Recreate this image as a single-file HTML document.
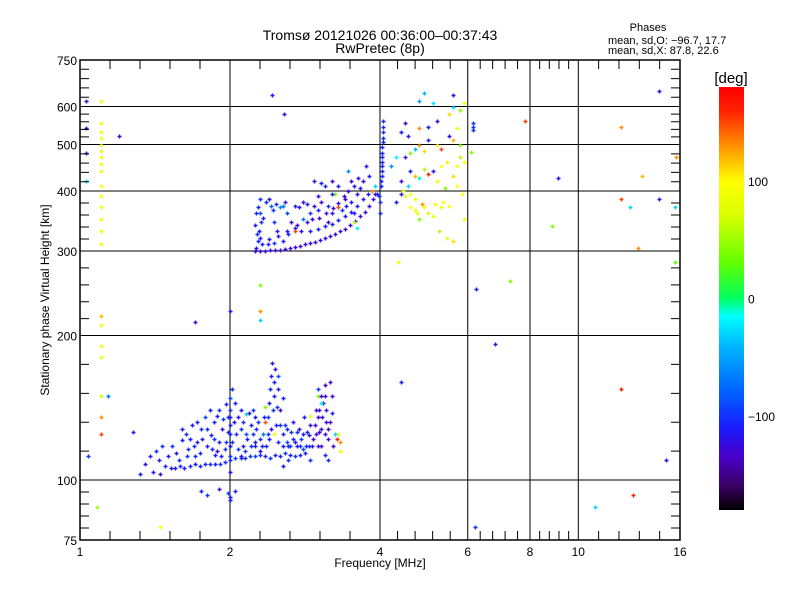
<!DOCTYPE html>
<html><head><meta charset="utf-8">
<style>
body{margin:0;background:#fff;}
svg{display:block;font-family:"Liberation Sans",sans-serif;}
</style></head>
<body>
<svg id="chart" width="800" height="600" viewBox="0 0 800 600" xmlns="http://www.w3.org/2000/svg">
<rect x="0" y="0" width="800" height="600" fill="#fff"/>
<text x="380" y="40" font-size="14" text-anchor="middle">Tromsø 20121026 00:36:00–00:37:43</text>
<text x="380" y="53" font-size="14" text-anchor="middle">RwPretec (8p)</text>
<text x="648" y="31" font-size="11" text-anchor="middle">Phases</text>
<text x="608" y="44" font-size="11">mean, sd,O: −96.7, 17.7</text>
<text x="608" y="54" font-size="11">mean, sd,X:  87.8, 22.6</text>
<text transform="translate(49,300) rotate(-90)" font-size="12" text-anchor="middle">Stationary phase Virtual Height [km]</text>
<text x="380" y="567" font-size="12" text-anchor="middle">Frequency [MHz]</text>
<text x="731" y="83" font-size="15" text-anchor="middle">[deg]</text>
<g id="grid"></g>
<g id="marks"></g>
<g id="axes"></g>
<g id="cbar"></g>
</svg>
<script>
const xLabelValues=[1,2,4,6,8,10,16];
const yLabelValues=[75,100,200,300,400,500,600,750];
const cbarTicks=[100,0,-100];
const leftColumn=[[1.1,615,95],[1.1,555,90],[1.1,530,90],[1.1,515,92],[1.1,500,90],[1.1,485,88],[1.1,470,90],[1.1,455,90],[1.1,440,88],[1.1,410,90],[1.1,390,95],[1.1,370,90],[1.1,350,90],[1.1,330,92],[1.1,310,90],[1.1,220,120],[1.1,210,95],[1.1,190,90],[1.1,180,85],[1.1,150,70],[1.1,135,130],[1.1,125,150],[1.03,615,-130],[1.03,540,-130],[1.03,480,-130],[1.03,420,-30],[1.2,520,-130]];
const upperTrace=[[2.25,300,-125],[2.3,300,-125],[2.35,300,-125],[2.41,301,-125],[2.46,301,-125],[2.52,302,-125],[2.58,303,-125],[2.64,305,-125],[2.7,306,-125],[2.76,308,-125],[2.83,310,-125],[2.89,312,-125],[2.96,314,-125],[3.03,316,-125],[3.1,319,-125],[3.17,322,-125],[3.25,326,-125],[3.33,330,-125],[3.4,334,-125],[3.48,340,-125],[3.57,347,-125],[3.65,355,-125],[3.73,362,-125],[3.8,372,-125],[3.87,385,-125],[3.91,395,-125],[2.9,330,-110],[3.0,333,-110],[3.1,338,-110],[3.2,342,-110],[3.3,348,-110],[3.4,355,-110],[3.5,362,-110],[3.6,372,-110],[3.7,385,-110],[3.78,395,-110],[2.3,320,-115],[2.4,318,-115],[2.5,322,-115],[2.6,330,-115],[2.7,335,-115]];
const upperVertical=[[4.02,410,-105],[4.02,420,-105],[4.03,430,-105],[4.03,440,-105],[4.03,450,-105],[4.04,460,-105],[4.04,470,-105],[4.04,480,-105],[4.04,495,-105],[4.05,505,-105],[4.05,515,-105],[4.05,530,-105],[4.05,545,-105],[4.05,560,-105],[3.98,390,-105],[3.95,395,-110],[4.0,380,-100],[4.0,360,-105]];
const upperScatter=[[2.25,340,-110],[2.27,325,-100],[2.3,360,-90],[2.32,310,-110],[2.36,380,-105],[2.4,385,-120],[2.45,345,-100],[2.48,330,-115],[2.52,370,-60],[2.55,372,-70],[2.6,360,-90],[2.58,380,-115],[2.65,345,-120],[2.7,372,-110],[2.75,370,-120],[2.8,380,-130],[2.85,375,-110],[2.9,360,-100],[2.95,372,-125],[3.0,365,-110],[3.05,380,-130],[3.1,410,-110],[3.15,372,-100],[3.2,360,-120],[3.0,390,-130],[2.8,350,-70],[3.25,395,40],[3.15,345,-130],[3.3,370,150],[3.35,365,-100],[3.4,385,-130],[3.5,380,-110],[3.55,360,-110],[3.6,395,-120],[3.5,420,-130],[3.45,440,-60],[3.65,405,-110],[3.7,420,-130],[3.75,450,-115],[3.8,430,-110],[3.85,400,130],[3.9,410,-30],[3.55,345,60],[2.7,330,150],[3.2,395,-115],[2.95,420,-130],[3.05,415,-110],[3.6,335,-20],[4.3,380,-110],[4.4,395,-120],[4.45,400,90],[4.5,390,80],[4.55,410,-30],[4.6,370,100],[4.7,365,90],[4.75,360,80],[4.8,350,40],[4.85,375,130],[4.9,370,90],[5.0,360,70],[5.1,355,85],[5.15,375,90],[5.3,370,80],[5.35,380,100],[5.5,372,85],[4.4,420,-130],[4.6,440,-110],[4.7,430,120],[4.8,425,-20],[4.9,445,60],[5.0,435,160],[5.1,440,-120],[5.2,420,90],[5.3,450,100],[5.45,460,80],[5.6,430,110],[5.7,450,90],[5.8,470,60],[5.9,460,100],[4.5,470,-120],[4.6,480,40],[4.7,490,-40],[4.8,500,130],[4.9,485,110],[5.0,510,-110],[5.2,500,90],[5.3,490,150],[5.5,520,-130],[5.6,510,120],[5.7,540,90],[5.8,500,40],[4.4,530,-110],[4.5,555,-130],[4.55,520,-110],[4.8,540,130],[5.0,545,-110],[5.2,560,-130],[5.5,580,110],[5.6,600,-30],[5.8,590,40],[5.9,610,90],[4.8,615,-50],[5.1,610,-25],[5.6,635,-120],[4.9,640,-40],[4.3,470,-20],[4.2,450,-60],[5.4,405,40],[5.7,410,100],[5.85,395,90],[5.25,330,60],[5.45,320,90],[5.6,315,110],[4.6,395,100],[4.7,385,90],[5.9,350,90]];
const upperDense=[[2.26,305,-110],[2.28,315,-105],[2.29,330,-110],[2.31,345,-100],[2.33,352,-110],[2.26,360,-105],[2.28,370,-110],[2.3,385,-100],[2.42,372,-80],[2.44,365,-100],[2.47,375,-110],[2.38,310,-110],[2.45,312,-100],[2.55,315,-110],[2.62,325,-105],[2.72,340,-130],[2.78,330,-125],[2.85,345,-130],[2.92,350,-125],[3.02,352,-130],[3.12,360,-125],[3.22,368,-130],[3.3,378,-125],[3.38,390,-125],[3.45,400,-130],[3.55,410,-120],[3.62,425,-125],[3.2,420,-130],[3.3,410,-110],[3.42,372,-110]];
const lowerBand=[[1.48,107,-110],[1.52,106,-110],[1.55,106,-115],[1.59,107,-105],[1.62,106,-110],[1.66,107,-105],[1.7,108,-110],[1.74,107,-105],[1.78,108,-110],[1.82,108,-105],[1.87,108,-110],[1.91,108,-100],[1.95,109,-105],[2.0,110,-100],[2.05,111,-100],[2.1,111,-105],[2.14,111,-100],[2.19,112,-100],[2.25,112,-95],[2.3,113,-100],[2.35,112,-105],[2.41,111,-100],[2.46,113,-105],[2.52,112,-110],[2.58,114,-100],[2.64,113,-110],[2.7,112,-100],[2.76,113,-105],[2.83,114,-110]];
const lowerScatter=[[1.35,108,-120],[1.38,112,-110],[1.32,103,-110],[1.42,115,-100],[1.45,103,-130],[1.5,112,-110],[1.53,118,-100],[1.56,114,-120],[1.6,121,-110],[1.63,125,-100],[1.65,116,-100],[1.68,130,-110],[1.72,120,-120],[1.75,128,-100],[1.78,135,-90],[1.8,118,-120],[1.83,124,-110],[1.86,132,-110],[1.88,115,-130],[1.9,140,-100],[1.93,128,-120],[1.96,120,-100],[1.98,135,-110],[2.0,125,-105],[2.0,130,-110],[2.0,140,-100],[2.0,148,-90],[2.0,118,-120],[2.02,155,-100],[2.05,145,-110],[2.08,135,-120],[2.1,128,-100],[2.12,118,-110],[2.15,125,-90],[2.18,138,-130],[2.2,130,-110],[2.22,140,-100],[2.25,120,-110],[2.28,132,-100],[2.3,115,-120],[2.33,125,-70],[2.36,118,-110],[2.38,135,-100],[2.4,122,-110],[2.42,128,-130],[2.45,160,-110],[2.45,150,-120],[2.46,170,-130],[2.48,142,-100],[2.5,155,-110],[2.5,165,-90],[2.52,140,-130],[2.55,148,-110],[2.55,125,-110],[2.58,130,-100],[2.6,120,-90],[2.62,118,-110],[2.65,126,-100],[2.68,132,-110],[2.7,120,-110],[2.72,118,-110],[2.75,128,-120],[2.78,122,-100],[2.8,116,-90],[2.82,135,-110],[2.85,126,-110],[2.88,118,-100],[2.9,130,-120],[2.94,122,-130],[2.98,125,-125],[3.0,135,-130],[3.02,140,-130],[3.05,128,-125],[3.05,118,-130],[3.08,145,-120],[3.1,150,-130],[3.12,132,-130],[3.15,122,-125],[3.18,160,-130],[3.1,158,-140],[3.0,155,-100],[3.0,150,40],[3.05,145,-20],[2.9,136,85],[2.45,125,90],[2.35,132,150],[2.15,137,-30],[2.35,142,40],[2.1,112,-120],[1.75,95,-110],[1.8,93,-100],[1.9,96,-130],[2.0,92,-110],[2.05,95,-115],[1.98,94,-100],[2.0,91,-110],[3.2,138,-110],[3.3,125,90],[3.32,120,130],[3.28,122,160],[3.33,115,80],[3.25,125,-30],[2.55,107,-110],[2.9,110,-100],[3.1,113,-105],[3.15,110,-105],[1.7,112,-105],[1.87,113,-110],[1.95,116,-100],[2.25,118,-110],[2.62,110,-100]];
const lowerDense=[[1.4,104,-110],[1.44,110,-110],[1.46,118,-100],[1.58,110,-105],[1.6,128,-110],[1.64,112,-100],[1.66,122,-110],[1.69,118,-105],[1.72,132,-110],[1.74,114,-105],[1.76,122,-110],[1.8,128,-100],[1.82,140,-110],[1.84,116,-105],[1.86,122,-100],[1.88,136,-110],[1.9,120,-105],[1.92,112,-110],[1.94,134,-100],[1.96,144,-105],[1.98,126,-110],[2.0,112,-100],[2.0,135,-105],[2.0,104,-110],[2.02,120,-100],[2.04,132,-110],[2.06,125,-105],[2.08,116,-100],[2.1,140,-110],[2.12,132,-105],[2.14,115,-100],[2.16,122,-110],[2.2,118,-105],[2.22,125,-100],[2.24,135,-110],[2.26,128,-105],[2.3,122,-100],[2.32,118,-110],[2.34,135,-105],[2.38,125,-100],[2.4,145,-110],[2.41,155,-105],[2.42,165,-110],[2.43,175,-120],[2.44,140,-100],[2.47,130,-110],[2.5,120,-105],[2.52,130,-100],[2.56,118,-110],[2.6,128,-105],[2.64,118,-100],[2.68,122,-110],[2.72,126,-105],[2.76,118,-100],[2.8,125,-110],[2.84,118,-105],[2.88,124,-110],[2.92,118,-125],[2.96,130,-130],[2.98,140,-130],[3.0,118,-125],[3.02,126,-130],[3.04,150,-130],[3.06,135,-125],[3.1,125,-130],[3.12,140,-125],[3.14,128,-135],[3.18,132,-130],[3.2,150,-125],[3.22,118,-130]];
const sparsePoints=[[2.43,635,-110],[2.57,580,-120],[1.7,213,-130],[2.0,225,-110],[2.3,255,40],[2.3,225,130],[2.3,215,-30],[6.22,250,-110],[7.3,260,40],[6.8,192,-120],[4.4,160,-110],[4.35,285,90],[12.2,155,160],[15,110,-120],[6.2,80,-100],[10.8,88,-30],[12.9,93,160],[1.14,150,-70],[1.04,112,-100],[1.28,126,-110],[1.45,80,100],[1.08,88,50],[14.5,645,-130],[12.2,545,130],[7.8,560,150],[6.15,555,-100],[6.15,545,-100],[6.15,535,-100],[6.1,482,40],[9.1,425,-130],[8.86,338,40],[12.2,385,150],[12.7,370,-30],[13.2,305,130],[14.5,385,-120],[15.6,370,-30],[15.7,470,130],[15.6,285,30],[13.4,430,120]];

const X0=80,X1=680,Y0=540,Y1=60;
function xs(f){return X0+(X1-X0)*Math.log(f)/Math.log(16);}
function ys(h){return Y0-(Y0-Y1)*Math.log10(h/75);}
const cstops=[[-180,[0,0,0]],[-160,[58,0,96]],[-135,[74,0,200]],[-110,[26,26,255]],[-80,[0,96,255]],[-40,[0,184,255]],[-15,[0,255,255]],[0,[0,255,96]],[30,[96,255,0]],[70,[216,255,0]],[100,[255,255,0]],[130,[255,144,0]],[160,[255,32,0]],[180,[255,0,0]]];
function pcol(p){
  for(let i=0;i<cstops.length-1;i++){
    const a=cstops[i],b=cstops[i+1];
    if(p<=b[0]){const t=Math.max(0,(p-a[0])/(b[0]-a[0]));
      const c=a[1].map((v,k)=>Math.round(v+(b[1][k]-v)*t));return `rgb(${c[0]},${c[1]},${c[2]})`;}
  }
  return 'rgb(255,0,0)';
}
const NS='http://www.w3.org/2000/svg';
function mk(tag,attrs,parent){const e=document.createElementNS(NS,tag);for(const k in attrs)e.setAttribute(k,attrs[k]);parent.appendChild(e);return e;}
const grid=document.getElementById('grid'),axes=document.getElementById('axes'),marks=document.getElementById('marks'),cb=document.getElementById('cbar');
[2,4,6,8,10].forEach(v=>{const l=mk('line',{x1:xs(v),x2:xs(v),y1:Y1,y2:Y0,stroke:'#000','stroke-width':1},grid);

});
[100,200,300,400,500,600].forEach(v=>{const l=mk('line',{x1:X0,x2:X1,y1:ys(v),y2:ys(v),stroke:'#000','stroke-width':1},grid);

});
const allSeries=[['left-column-point',leftColumn],['upper-trace-point',upperTrace],['upper-vertical-point',upperVertical],['upper-scatter-point',upperScatter],['upper-dense-point',upperDense],['lower-band-point',lowerBand],['lower-scatter-point',lowerScatter],['lower-dense-point',lowerDense],['sparse-point',sparsePoints]];
allSeries.forEach(([nm,arr])=>{arr.forEach(d=>{
  const x=Math.round(xs(d[0]))+0.5,y=Math.round(ys(d[1]))+0.5,c=pcol(d[2]);
  const p=mk('path',{d:`M${x-2},${y}H${x+2}M${x},${y-2}V${y+2}`,stroke:c,'stroke-width':1.4,fill:'none'},marks);
  
  
});});
const fr=mk('rect',{x:X0,y:Y1,width:X1-X0,height:Y0-Y1,fill:'none',stroke:'#000','stroke-width':1.5},axes);


for(let i=0;i<xLabelValues.length-1;i++){const a=xs(xLabelValues[i]),b=xs(xLabelValues[i+1]);
  for(let k=1;k<5;k++){const x=a+(b-a)*k/5;
    const t=mk('path',{d:`M${x},${Y0}v-9M${x},${Y1}v9`,stroke:'#000','stroke-width':1},axes);
    
    }}
for(let i=0;i<yLabelValues.length-1;i++){const a=ys(yLabelValues[i]),b=ys(yLabelValues[i+1]);
  for(let k=1;k<5;k++){const y=a+(b-a)*k/5;
    const t=mk('path',{d:`M${X0},${y}h9M${X1},${y}h-9`,stroke:'#000','stroke-width':1},axes);
    
    }}
xLabelValues.forEach(v=>{const t=mk('text',{x:xs(v),y:556,'font-size':12,'text-anchor':'middle'},axes);t.textContent=v;

});
yLabelValues.forEach(v=>{const t=mk('text',{x:77,y:ys(v)+5,'font-size':12,'text-anchor':'end'},axes);t.textContent=v;

});
const CB0=510,CB1=87,CX=719,CW=25;
function cy(p){return CB0-(CB0-CB1)*(p+180)/360;}
const defs=mk('defs',{},cb);
const g=mk('linearGradient',{id:'cg',x1:0,y1:1,x2:0,y2:0},defs);
cstops.forEach(s=>mk('stop',{offset:(s[0]+180)/360,'stop-color':pcol(s[0])},g));
const bar=mk('rect',{x:CX,y:CB1,width:CW,height:CB0-CB1,fill:'url(#cg)'},cb);


cbarTicks.forEach(v=>{
  const t=mk('text',{x:748,y:cy(v)+5,'font-size':12},cb);t.textContent=v===-100?'−100':v;
  
  
});
</script>
</body></html>
